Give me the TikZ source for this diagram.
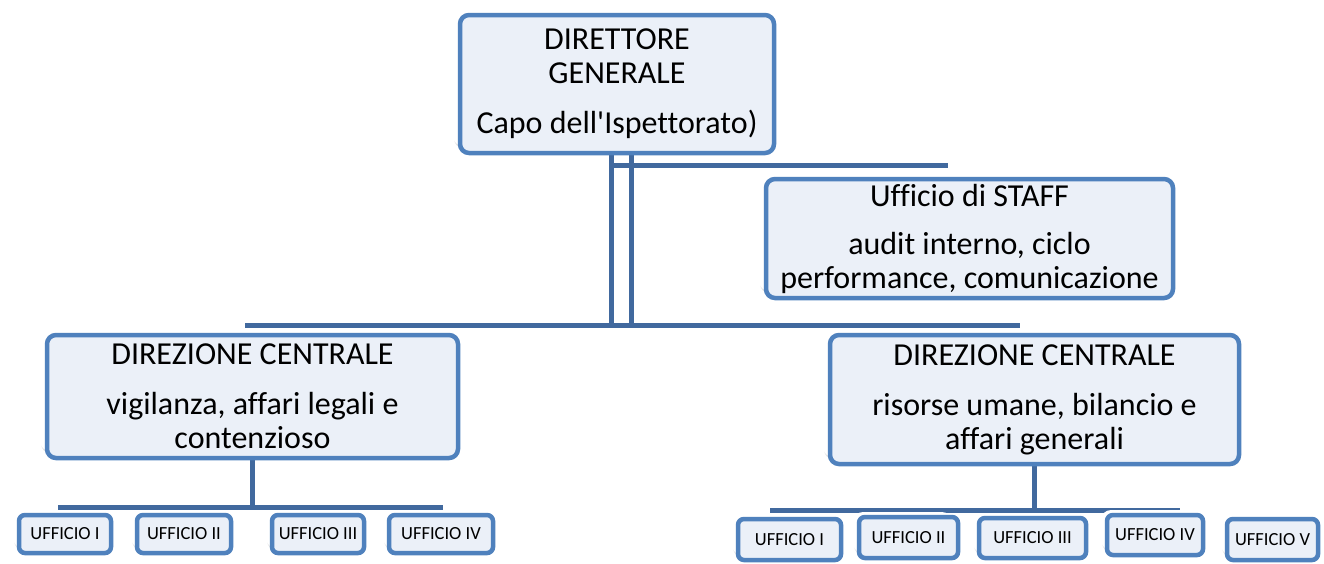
\documentclass[tikz,border=0pt]{standalone}
\usepackage{fontspec}
\setmainfont{Carlito}[Ligatures=NoCommon]
\usetikzlibrary{shadows}
\definecolor{bord}{HTML}{4F81BD}
\definecolor{fillb}{HTML}{EBF0F8}
\definecolor{conncol}{HTML}{41699E}
\pgfdeclarelayer{background}
\pgfsetlayers{background,main}
\tikzset{
  obox/.style 2 args={draw=bord, fill=fillb, line width=4.5pt, rounded corners=9pt,
    minimum width=#1, minimum height=#2, inner sep=0pt, align=center,
    font=\fontsize{32}{34}\selectfont},
  sbox/.style 2 args={draw=bord, fill=fillb, line width=4.5pt, rounded corners=6pt,
    minimum width=#1, minimum height=#2, inner sep=0pt, align=center,
    font=\fontsize{18.5}{20}\selectfont},
  halo/.style 2 args={fill=white, rounded corners=10pt, minimum width=#1, minimum height=#2,
    inner sep=0pt, drop shadow={opacity=0.22, shadow xshift=1pt, shadow yshift=-2.5pt}},
  conn/.style={draw=conncol, line width=5pt}
}
\newcommand{\mybox}[6]{% name, cx, cy, w, h, text
  \node[halo={#4pt}{#5pt}] (#1h) at ({#2-7},{#3-7}) {};
  \node[obox={#4pt}{#5pt}] (#1) at (#2,#3) {#6};}
\newcommand{\mysbox}[6]{%
  \node[halo={#4pt}{#5pt}] (#1h) at ({#2-6},{#3-5}) {};
  \node[sbox={#4pt}{#5pt}] (#1) at (#2,#3) {#6};}
\begin{document}
\begin{tikzpicture}[x=1pt,y=-1pt]
\useasboundingbox (0,0) rectangle (1324,563);
\coordinate (vL) at (611,0);
\coordinate (vR) at (631,0);
\coordinate (topbusW) at (245,325);
\coordinate (topbusE) at (1020,325);
\coordinate (staffbusE) at (948,165);
\coordinate (lbusW) at (58,507);
\coordinate (lbusE) at (443,507);
\coordinate (rbusW) at (770,510);
\coordinate (rbusE) at (1180,510);

\mybox{main}{617}{84}{314}{138}{DIRETTORE\\GENERALE\\[16pt]Capo dell\textquotesingle Ispettorato)}
\mybox{staff}{969.5}{238.5}{407}{119}{Ufficio di STAFF\\[14pt]audit interno, ciclo\\performance, comunicazione}
\mybox{dcl}{252.5}{396.5}{411}{123}{DIREZIONE CENTRALE\\[16pt]vigilanza, affari legali e\\contenzioso}
\mybox{dcr}{1034.5}{399.5}{409}{129}{DIREZIONE CENTRALE\\[16pt]risorse umane, bilancio e\\affari generali}

\mysbox{la}{65}{534}{92}{38}{UFFICIO I}
\mysbox{lb}{184}{534}{94}{38}{UFFICIO II}
\mysbox{lc}{318}{534}{92}{38}{UFFICIO III}
\mysbox{ld}{441}{534}{104}{38}{UFFICIO IV}

\mysbox{ra}{789.5}{539.5}{103}{41}{UFFICIO I}
\mysbox{rb}{908.5}{537.5}{99}{41}{UFFICIO II}
\mysbox{rc}{1032.5}{538}{107}{40}{UFFICIO III}
\mysbox{rd}{1155}{535}{96}{40}{UFFICIO IV}
\mysbox{re}{1272.5}{539.5}{91}{41}{UFFICIO V}

\begin{pgfonlayer}{background}
\draw[conn] (main.south -| vL) -- (vL |- topbusW);
\draw[conn] (main.south -| vR) -- (vR |- topbusW);
\draw[conn] (vL |- staffbusE) -- (staffbusE);
\draw[conn] (topbusW) -- (topbusE);
\draw[conn] (dcl.south) -- (dcl.south |- lbusW);
\draw[conn] (lbusW) -- (lbusE);
\draw[conn] (dcr.south) -- (dcr.south |- rbusW);
\draw[conn] (rbusW) -- (rbusE);
\end{pgfonlayer}
\end{tikzpicture}
\end{document}
